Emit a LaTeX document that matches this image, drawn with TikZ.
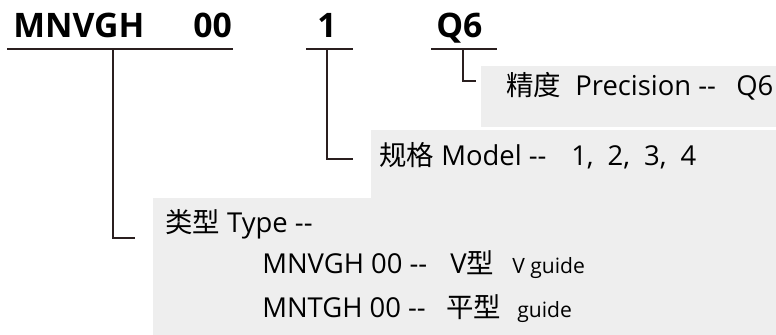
\documentclass[tikz,border=0pt]{standalone}
\usepackage{fontspec}
\setmainfont{Open Sans}
\newfontfamily\cjk{Noto Sans CJK SC}
\definecolor{boxgray}{HTML}{EEEEEE}
\definecolor{linebrown}{HTML}{2A1F1F}

\begin{document}
\begin{tikzpicture}[x=0.025cm,y=-0.025cm,
    code/.style={anchor=base west,inner sep=0pt,font=\fontsize{24}{28}\selectfont\bfseries},
    txt/.style={anchor=base west,inner sep=0pt,font=\fontsize{19.5}{23}\selectfont},
    small/.style={anchor=base west,inner sep=0pt,font=\fontsize{15}{18}\selectfont},
    box/.style={fill=boxgray,inner sep=0pt,anchor=north west},
    uline/.style={linebrown,line width=1.3pt},
    lead/.style={linebrown,line width=1pt}]
        \useasboundingbox (0,0) rectangle (776,335);
        % Code at the top
        \node[code] (series) at (13,37) {MNVGH};
        \node[code] (num)    at (193,37) {00};
        \node[code] (size)   at (317,37) {1};
        \node[code] (grade)  at (436,37) {Q6};
        % Grey boxes
        \node[box,minimum width=294,minimum height=43] (precbox) at (481,66) {};
        \node[box,minimum width=339,minimum height=52] (modelbox) at (371,130) {};
        \node[box,minimum width=472,minimum height=137] (typebox) at (153,198) {};
        % Box texts
        \node[txt] (prec) at (506,95) {{\cjk 精度}\ \ Precision -{}-};
        \node[txt] (precval) at (736,95) {Q6};
        \node[txt] (model) at (379,165) {{\cjk 规格} Model -{}-};
        \node[txt] (modelval) at (571,165) {1,\hspace{10pt}2,\hspace{10pt}3,\hspace{10pt}4};
        \node[txt] (type) at (165,232) {{\cjk 类型} Type -{}-};
        \node[txt] (vtype) at (262,273) {MNVGH 00 -{}-};
        \node[txt] (vval) at (450,273) {V{\cjk 型}};
        \node[small] (vnote) at (512,273) {V guide};
        \node[txt] (ftype) at (262,317) {MNTGH 00 -{}-};
        \node[txt] (fval) at (446,317) {{\cjk 平型}};
        \node[small] (fnote) at (517,317) {guide};
        % Underlines and leaders
        \coordinate (u1a) at (7,49);   \coordinate (u1b) at (233,49);
        \coordinate (u2a) at (306,49); \coordinate (u2b) at (353,49);
        \coordinate (u3a) at (431,49); \coordinate (u3b) at (497,49);
        \draw[uline] (u1a) -- (u1b);
        \draw[uline] (u2a) -- (u2b);
        \draw[uline] (u3a) -- (u3b);
        \coordinate (e1) at (135,238);
        \coordinate (e2) at (353,159);
        \coordinate (e3) at (476,81);
        \draw[lead] (113,49) |- (e1);
        \draw[lead] (327,49) |- (e2);
        \draw[lead] (463,49) |- (e3);
      \end{tikzpicture}
\end{document}
